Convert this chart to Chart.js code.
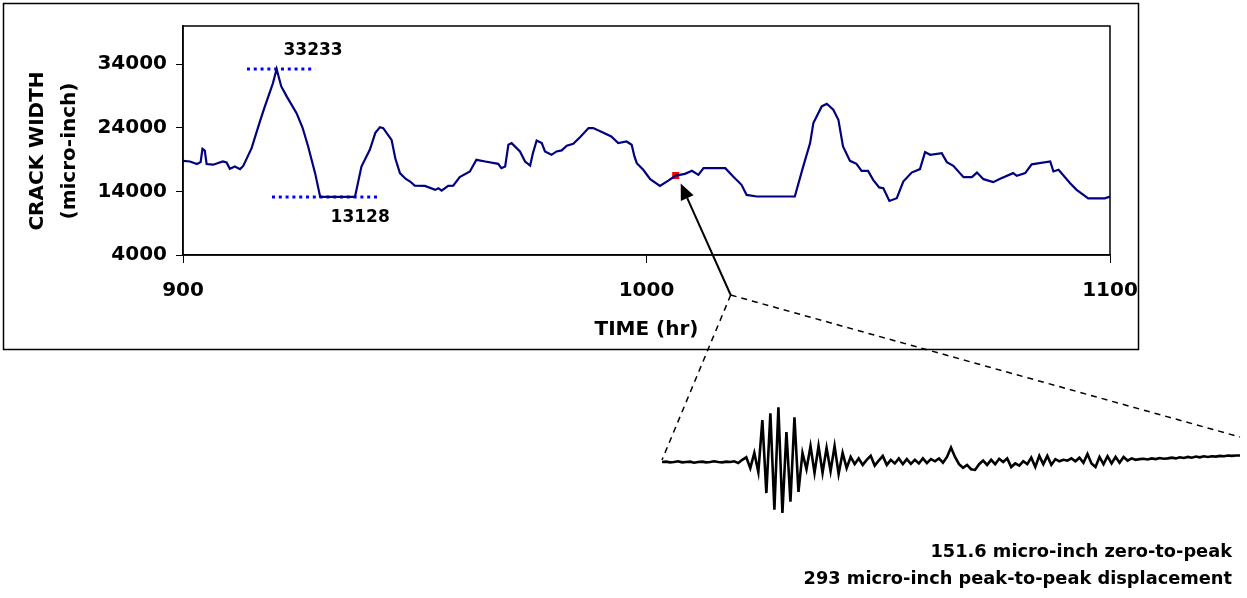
<!DOCTYPE html>
<html>
<head>
<meta charset="utf-8">
<script src="https://cdn.jsdelivr.net/npm/chart.js"></script>
<style>
  html, body { margin: 0; padding: 0; background: #fff; }
  #wrap { position: relative; width: 1247px; height: 598px; }
  #mainChart { position: absolute; left: 0; top: 0; }
  #waveChart { position: absolute; left: 662px; top: 397px; }
</style>
</head>
<body>
<div id="wrap">
  <canvas id="mainChart" width="1247" height="598"></canvas>
  <canvas id="waveChart" width="578" height="130"></canvas>
</div>
<script>
// crack width history
const timeHr = [900, 901.5, 903, 903.8, 904.2, 904.7, 905.1, 906.5, 908.6, 909.4, 910.1, 911.2, 912.3, 913,
  914.8, 916.6, 917.5, 918.4, 919.4, 920.2, 921.2, 922.4, 924.5, 925.8, 927, 928.5, 929.6, 937.1,
  938.5, 940.3, 941.5, 942.5, 943.2, 945, 945.8, 946.8, 948, 949, 950, 952.2, 954.4, 955.1, 955.8,
  957.2, 958.3, 959.7, 961.9, 963.3, 965.2, 968, 968.7, 969.5, 970.2, 970.9, 972.7, 973.8, 974.9,
  975.5, 976.3, 977.4, 978.1, 979.5, 980.6, 981.7, 982.8, 984.2, 985.7, 987.5, 988.5, 990.6, 992.4,
  993.9, 995.7, 996.8, 997.4, 997.9, 999.3, 1000.8, 1002.9, 1004.7, 1006.3, 1008.3, 1009.8, 1011.2,
  1012.3, 1017, 1018.7, 1020.5, 1021.6, 1023.8, 1032, 1033.8, 1035.3, 1036, 1037.8, 1038.9, 1040.3,
  1041.4, 1042.4, 1043.9, 1045.3, 1046.4, 1047.8, 1048.9, 1050.2, 1051.1, 1052.4, 1054, 1055.4,
  1057.2, 1059, 1060.1, 1061.2, 1063.7, 1064.8, 1066.2, 1068.4, 1070.2, 1071.3, 1072.7, 1074.8,
  1076.3, 1079.1, 1079.9, 1081.7, 1083.1, 1087.1, 1087.8, 1088.9, 1091.4, 1092.8, 1095.3, 1098.9, 1100];
const crackWidth = [18800, 18700, 18300, 18600, 20700, 20400, 18300, 18200, 18700, 18550, 17550, 17900, 17500, 18000,
  20800, 25000, 27000, 28900, 31000, 33233, 30500, 28900, 26300, 24000, 21050, 16870, 13128, 13128,
  17900, 20540, 23200, 24100, 23950, 22100, 19200, 16870, 16000, 15550, 14900, 14870, 14240, 14500, 14130,
  14870, 14900, 16240, 17130, 18960, 18700, 18330, 17650, 17900, 21330, 21590, 20280, 18700, 18070,
  20020, 22000, 21590, 20280, 19750, 20280, 20440, 21170, 21480, 22540, 23950, 23950, 23270, 22640,
  21590, 21850, 21330, 19500, 18440, 17390, 15920, 14870, 15700, 16490, 16760, 17230, 16600,
  17650, 17650, 16330, 15030, 13450, 13200, 13200, 17900, 21590, 24740, 27360, 27780, 26840,
  25260, 21060, 18800, 18330, 17230, 17230, 15810, 14630, 14500, 12500, 12920, 15550,
  16960, 17500, 20170, 19750, 20020, 18600, 18020, 16240, 16240, 16960, 15920, 15450,
  15970, 16870, 16440, 16870, 18250, 18700, 17130, 17390, 15290, 14240, 12900, 12900, 13190];

// max / min markers
const peakValue = 33233;
const peakSpan = [913.8, 928.5];
const troughValue = 13128;
const troughSpan = [919.2, 942.1];

// event picked for the waveform
const eventTime = 1006.3;
const eventWidth = 16490;

const xTicks = [900, 1000, 1100];
const yTicks = [4000, 14000, 24000, 34000];

// waveform of the event (micro-inch), equal time steps
const waveDisp = [0, 1, -1, 0, 2, -1, 0, 1, -2, 0, 1, -1, 0, 2, 0, -1, 1, 0, 2, -3,
  6, 13, -17, 25, -28, 116, -86, 135, -132, 151.6, -141, 83, -110, 124, -83, 25, -20, 44, -30, 44,
  -30, 39, -25, 44, -33, 25, -17, 14, -6, 10, -8, 6, 17, -10, 4, 17, -8, 6, -4, 10,
  -6, 8, -5, 6, -4, 10, -3, 8, 2, 10, -2, 14, 40, 14, -6, -16, -8, -20, -22, -6,
  4, -8, 6, -6, 9, 0, 10, -14, -4, -10, 2, -6, 12, -14, 17, -6, 17, -8, 8, 2,
  6, 4, 10, 2, 12, -2, 22, -4, -14, 14, -6, 16, -4, 14, -2, 14, 4, 10, 6, 8,
  9, 7, 10, 8, 11, 9, 10, 12, 10, 13, 11, 14, 12, 15, 13, 16, 14, 16, 15, 17,
  16, 18, 17, 18, 18];

const noteLines = ['151.6 micro-inch zero-to-peak', '293 micro-inch peak-to-peak displacement'];

const FONT = 'DejaVu Sans';

const decor = {
  id: 'decor',
  afterDraw(chart) {
    const ctx = chart.ctx;
    const a = chart.chartArea;
    const xs = chart.scales.x, ys = chart.scales.y;
    ctx.save();

    // outer frame
    ctx.strokeStyle = '#000';
    ctx.lineWidth = 1.5;
    ctx.strokeRect(3.5, 3.5, 1135, 346);
    // plot frame
    ctx.lineWidth = 1.5;
    ctx.strokeRect(a.left, a.top, a.right - a.left, a.bottom - a.top);

    // y title
    ctx.fillStyle = '#000';
    ctx.font = 'bold 20px "' + FONT + '"';
    ctx.textAlign = 'center';
    ctx.textBaseline = 'middle';
    ctx.translate(38, 151);
    ctx.rotate(-Math.PI / 2);
    ctx.fillText('CRACK WIDTH', 0, 0);
    ctx.fillText('(micro-inch)', 0, 32);
    ctx.setTransform(1, 0, 0, 1, 0, 0);

    // value labels
    ctx.font = 'bold 17px "' + FONT + '"';
    ctx.fillText(String(peakValue), xs.getPixelForValue(peakSpan[1]) - 2, ys.getPixelForValue(peakValue) - 18);
    ctx.fillText(String(troughValue), xs.getPixelForValue(troughSpan[1]) - 18, ys.getPixelForValue(troughValue) + 21);

    // arrow from zoom-out point to the event
    const mx = xs.getPixelForValue(eventTime), my = ys.getPixelForValue(eventWidth);
    const tip = { x: mx + 5, y: my + 8 };
    const tail = { x: mx + 55, y: a.bottom + 40 };
    const ang = Math.atan2(tip.y - tail.y, tip.x - tail.x);
    const hl = 16, hw = 7;
    ctx.lineWidth = 2;
    ctx.beginPath();
    ctx.moveTo(tail.x, tail.y);
    ctx.lineTo(tip.x - Math.cos(ang) * hl, tip.y - Math.sin(ang) * hl);
    ctx.stroke();
    ctx.beginPath();
    ctx.moveTo(tip.x, tip.y);
    ctx.lineTo(tip.x - Math.cos(ang) * hl - Math.sin(ang) * hw, tip.y - Math.sin(ang) * hl + Math.cos(ang) * hw);
    ctx.lineTo(tip.x - Math.cos(ang) * hl + Math.sin(ang) * hw, tip.y - Math.sin(ang) * hl - Math.cos(ang) * hw);
    ctx.closePath();
    ctx.fill();

    // dashed zoom lines to the waveform
    ctx.lineWidth = 1.5;
    ctx.setLineDash([6, 5]);
    ctx.beginPath();
    ctx.moveTo(tail.x, tail.y);
    ctx.lineTo(662, 460);
    ctx.moveTo(tail.x, tail.y);
    ctx.lineTo(1240, 437);
    ctx.stroke();
    ctx.setLineDash([]);

    // notes
    ctx.font = 'bold 17.8px "' + FONT + '"';
    ctx.textAlign = 'right';
    ctx.fillText(noteLines[0], 1232, 552);
    ctx.fillText(noteLines[1], 1232, 579);
    ctx.restore();
  }
};

const pts = timeHr.map((t, i) => ({ x: t, y: crackWidth[i] }));

new Chart(document.getElementById('mainChart'), {
  type: 'line',
  data: {
    datasets: [{
      data: pts,
      borderColor: '#000080',
      borderWidth: 2.2,
      pointRadius: 0,
      tension: 0
    }, {
      data: [{ x: peakSpan[0], y: peakValue }, { x: peakSpan[1], y: peakValue }],
      borderColor: '#0000ff',
      borderWidth: 3,
      borderDash: [3, 3.8],
      pointRadius: 0
    }, {
      data: [{ x: troughSpan[0], y: troughValue }, { x: troughSpan[1], y: troughValue }],
      borderColor: '#0000ff',
      borderWidth: 3,
      borderDash: [3, 3.8],
      pointRadius: 0
    }, {
      data: [{ x: eventTime, y: eventWidth }],
      showLine: false,
      pointStyle: 'rect',
      pointRadius: 5,
      backgroundColor: '#ff0000',
      borderColor: '#ff0000',
      borderWidth: 0
    }]
  },
  options: {
    responsive: false,
    animation: false,
    devicePixelRatio: 1,
    layout: { padding: { left: 0, top: 26, right: 137, bottom: 253 } },
    plugins: { legend: { display: false }, tooltip: { enabled: false } },
    scales: {
      x: {
        type: 'linear',
        min: 900,
        max: 1100,
        afterBuildTicks: s => { s.ticks = xTicks.map(v => ({ value: v })); },
        afterFit: s => { s.height = 90; },
        ticks: { color: '#000', font: { family: FONT, weight: 'bold', size: 20 }, padding: 16, maxRotation: 0, callback: v => String(v) },
        grid: { drawOnChartArea: false, drawTicks: true, tickLength: 8, color: '#000' },
        border: { color: '#000', width: 1.5 },
        title: { display: true, text: 'TIME (hr)', color: '#000', font: { family: FONT, weight: 'bold', size: 20 }, padding: { top: 0, bottom: 3 } }
      },
      y: {
        type: 'linear',
        min: 4000,
        max: 40000,
        afterBuildTicks: s => { s.ticks = yTicks.map(v => ({ value: v })); },
        afterFit: s => { s.width = 183; },
        ticks: { color: '#000', font: { family: FONT, weight: 'bold', size: 20 }, padding: 9, callback: v => String(v) },
        grid: { drawOnChartArea: false, drawTicks: true, tickLength: 7, color: '#000' },
        border: { color: '#000', width: 1.5 }
      }
    }
  },
  plugins: [decor]
});

new Chart(document.getElementById('waveChart'), {
  type: 'line',
  data: {
    labels: waveDisp.map((v, i) => i),
    datasets: [{
      data: waveDisp,
      borderColor: '#000',
      borderWidth: 2.6,
      pointRadius: 0,
      tension: 0,
      clip: false
    }]
  },
  options: {
    responsive: false,
    animation: false,
    devicePixelRatio: 1,
    layout: { padding: 0 },
    plugins: { legend: { display: false }, tooltip: { enabled: false } },
    scales: {
      x: { display: false, offset: false },
      y: { display: false, min: -180, max: 180 }
    }
  }
});
</script>
</body>
</html>
